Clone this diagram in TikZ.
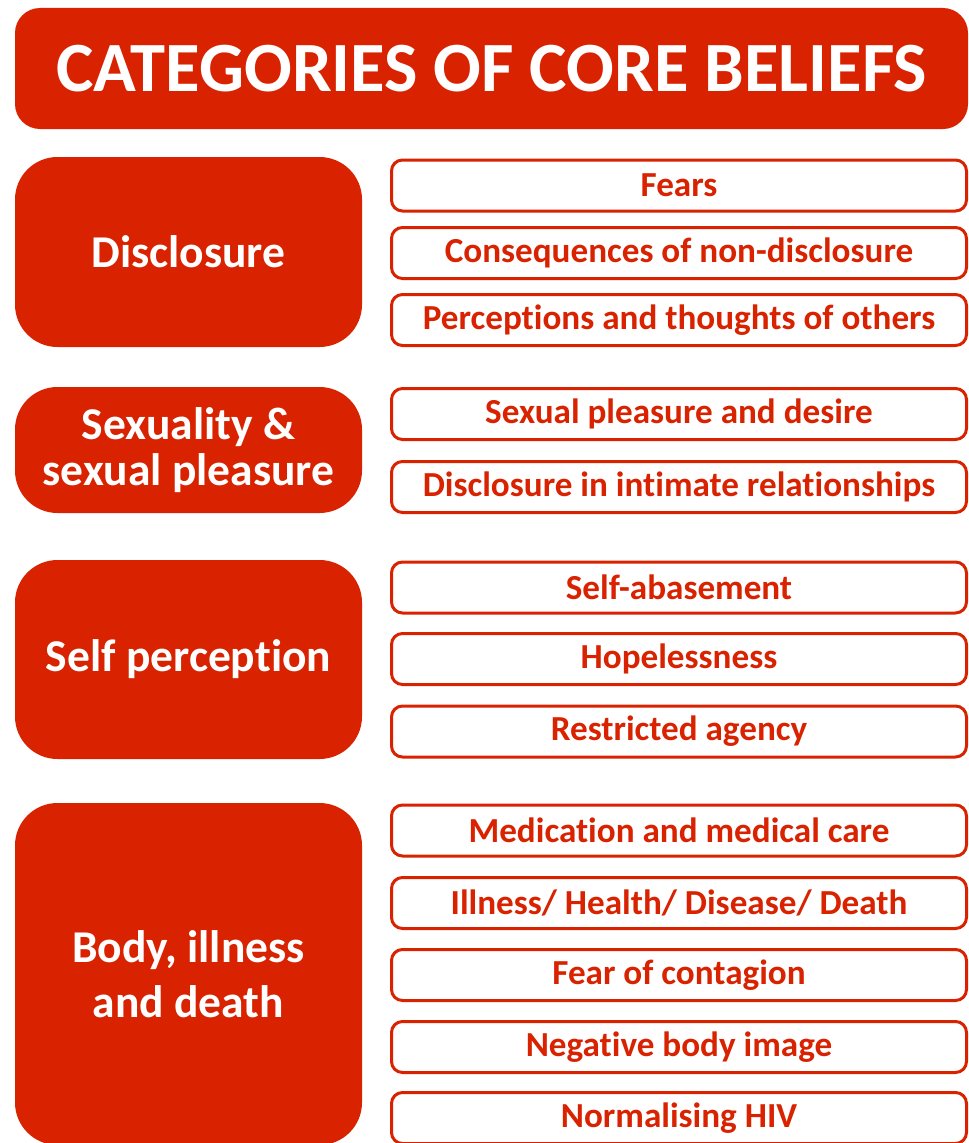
\documentclass[tikz,border=0pt]{standalone}
\usepackage{fontspec}
\setmainfont[Ligatures=NoCommon]{Carlito}
\usepackage{tikz}
\definecolor{corered}{RGB}{217,34,0}

\tikzset{
  titlebox/.style={fill=corered, rounded corners=0.5cm, text=white, font=\fontsize{40.2}{44}\selectfont\bfseries, minimum width=19.06cm, minimum height=2.42cm},
  catbox/.style={fill=corered, rounded corners=0.85cm, text=white, align=center, font=\fontsize{25.9}{31}\selectfont\bfseries, minimum width=6.94cm},
  itembox/.style={draw=corered, line width=0.06cm, rounded corners=0.22cm, fill=white, text=corered, font=\fontsize{20}{22}\selectfont\bfseries, minimum width=11.5cm, minimum height=1.02cm, inner sep=0pt}
}

\begin{document}
\begin{tikzpicture}
\useasboundingbox (0,0) rectangle (19.38,-22.86);

\node[titlebox] (title) at (9.83,-1.37) {CATEGORIES OF CORE BELIEFS};

% categories on the left
\node[catbox, minimum height=3.8cm] (disclosure) at (3.77,-5.04) {Disclosure};
\node[catbox, minimum height=2.52cm, font=\fontsize{25.9}{26.5}\selectfont\bfseries] (sexuality) at (3.77,-9.00) {Sexuality \&\\sexual pleasure};
\node[catbox, minimum height=3.98cm] (selfperc) at (3.77,-13.19) {Self perception};
\node[catbox, minimum height=6.84cm] (body) at (3.77,-19.48) {Body, illness\\and death};

% beliefs on the right
\node[itembox] (fears) at (13.58,-3.71) {Fears};
\node[itembox] (conseq) at (13.58,-5.06) {Consequences of non-disclosure};
\node[itembox] (percep) at (13.58,-6.40) {Perceptions and thoughts of others};

\node[itembox] (desire) at (13.58,-8.28) {Sexual pleasure and desire};
\node[itembox] (intimate) at (13.58,-9.74) {Disclosure in intimate relationships};

\node[itembox] (abase) at (13.58,-11.75) {Self-abasement};
\node[itembox] (hopeless) at (13.58,-13.18) {Hopelessness};
\node[itembox] (agency) at (13.58,-14.63) {Restricted agency};

\node[itembox] (medication) at (13.58,-16.61) {Medication and medical care};
\node[itembox] (illness) at (13.58,-18.06) {Illness/ Health/ Disease/ Death};
\node[itembox] (contagion) at (13.58,-19.50) {Fear of contagion};
\node[itembox] (bodyimage) at (13.58,-20.94) {Negative body image};
\node[itembox] (normal) at (13.58,-22.36) {Normalising HIV};

\end{tikzpicture}
\end{document}
